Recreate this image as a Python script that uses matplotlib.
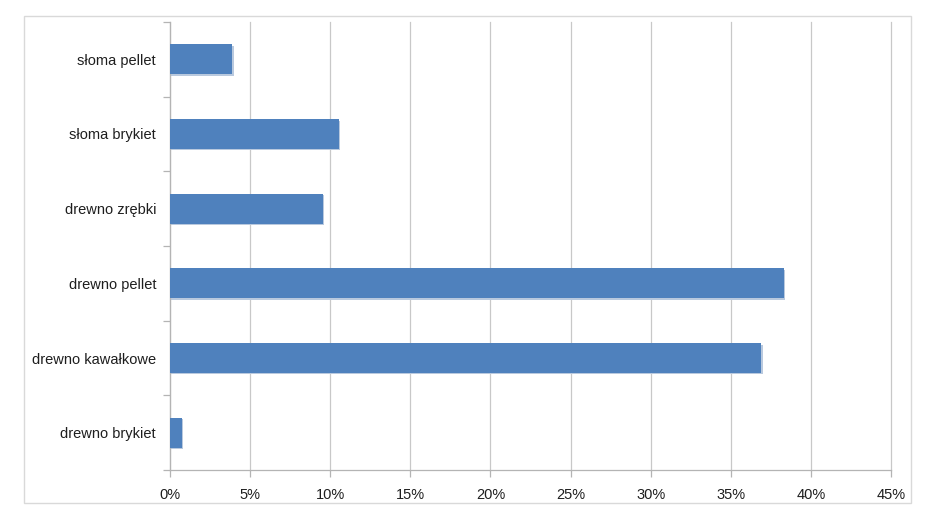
import numpy as np
import matplotlib.pyplot as plt
from matplotlib.patches import Rectangle
from matplotlib.ticker import FuncFormatter

# data (share of fuel type, %)
categories = ['drewno brykiet', 'drewno kawałkowe', 'drewno pellet',
              'drewno zrębki', 'słoma brykiet', 'słoma pellet']
values = [0.75, 36.9, 38.3, 9.55, 10.55, 3.9]
xticks = [0, 5, 10, 15, 20, 25, 30, 35, 40, 45]

plt.rcParams['font.family'] = ['Liberation Sans', 'DejaVu Sans']

fig = plt.figure(figsize=(9.4, 5.28), dpi=100)
ax = fig.add_axes([170/940., 1-470/528., (891-170)/940., (470-22)/528.])

# outer chart border
fig.patches.append(Rectangle((24/940., 1-503/528.), (911-24)/940., (503-16)/528.,
                             transform=fig.transFigure, fill=False,
                             edgecolor='#D9D9D9', linewidth=1.0))

y = np.arange(len(categories))
# slight shadow like the excel bars
ax.barh(y-0.02, values, height=0.4, left=0.08, color='#B9C9DE', zorder=2)
ax.barh(y, values, height=0.4, color='#4F81BD', zorder=3)

ax.set_xlim(0, 45)
ax.set_ylim(-0.5, len(categories)-0.5)
ax.set_xticks(xticks)
ax.xaxis.set_major_formatter(FuncFormatter(lambda v, p: '{:.0f}%'.format(v)))
ax.set_yticks(y)
ax.set_yticklabels(categories)
ax.set_yticks(np.arange(-0.5, len(categories)), minor=True)

ax.grid(axis='x', color='#C8C8C8', linewidth=0.9, zorder=0)
for gl in ax.get_xgridlines():
    gl.set_clip_on(False)
for s in ['top', 'right']:
    ax.spines[s].set_visible(False)
for s in ['left', 'bottom']:
    ax.spines[s].set_color('#B4B4B4')
    ax.spines[s].set_linewidth(0.9)

ax.tick_params(axis='x', length=5, width=0.9, color='#B4B4B4',
               labelsize=10.5, labelcolor='#1E1E1E', pad=8)
ax.tick_params(axis='y', which='major', length=0, labelsize=10.5,
               labelcolor='#1E1E1E', pad=10)
ax.tick_params(axis='y', which='minor', length=5, width=0.9, color='#B4B4B4')

plt.savefig('out.png', dpi=100)
plt.close()
